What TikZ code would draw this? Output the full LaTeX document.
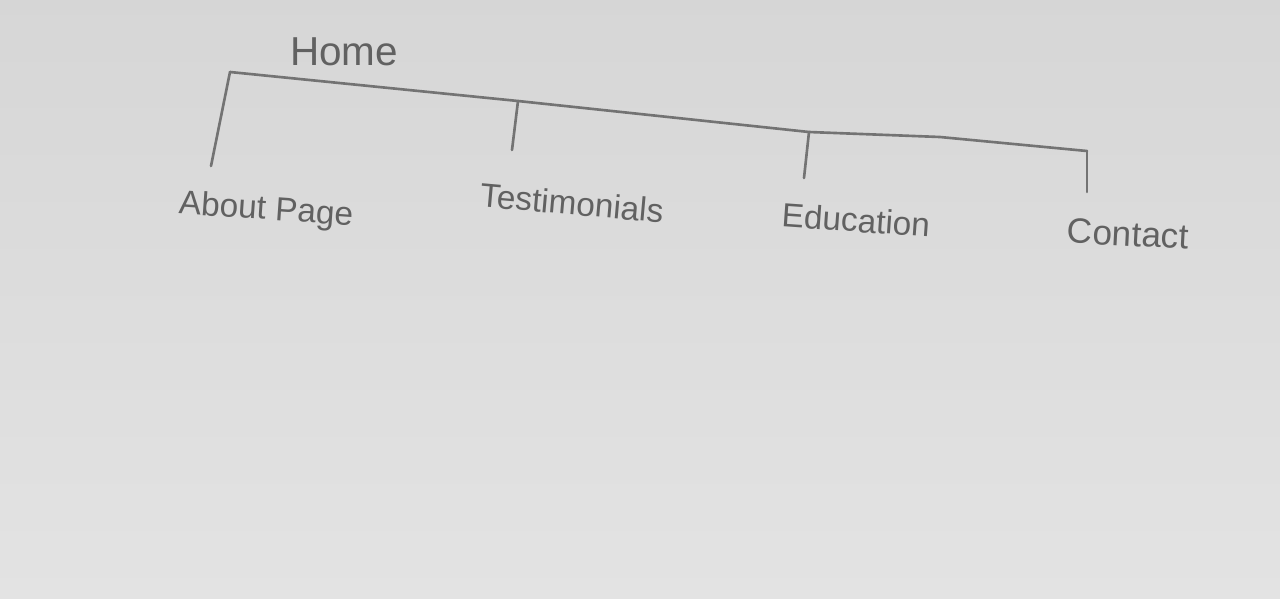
\documentclass[tikz,border=0pt]{standalone}
\usepackage{fontspec}
\setmainfont{Liberation Sans}
\begin{document}
\begin{tikzpicture}[x=0.2mm,y=-0.2mm,
  pencil/.style={draw=black!55, line width=1.5pt, line cap=round, line join=round},
  lbl/.style={text=black!62, inner sep=0pt, font=\fontsize{19}{20}\selectfont}]
\shade[top color=black!16, bottom color=black!11] (0,0) rectangle (1280,598);
\useasboundingbox (0,0) rectangle (1280,598);
% junctions
\coordinate (h0) at (230,72);
\coordinate (jt) at (518,101);
\coordinate (je) at (809,132);
\coordinate (jm) at (940,137);
\coordinate (jc) at (1087,151);
% tick ends
\coordinate (ta) at (211,166);
\coordinate (tt) at (512,150);
\coordinate (te) at (804,178);
\coordinate (tc) at (1087,192);
\draw[pencil] (h0) -- (jt) -- (je) -- (jm) -- (jc);
\draw[pencil] (h0) -- (ta);
\draw[pencil] (jt) -- (tt);
\draw[pencil] (je) -- (te);
\draw[pencil] (jc) -- (tc);
% labels
\node[lbl, font=\fontsize{23}{24}\selectfont] (home) at (344,52) {Home};
\node[lbl, rotate=-4] (about) at (266,211) {About Page};
\node[lbl, rotate=-5] (test) at (572,203) {Testimonials};
\node[lbl, rotate=-4] (edu) at (856,220) {Education};
\node[lbl, font=\fontsize{20}{21}\selectfont, rotate=-3] (cont) at (1128,234) {Contact};
\end{tikzpicture}
\end{document}
